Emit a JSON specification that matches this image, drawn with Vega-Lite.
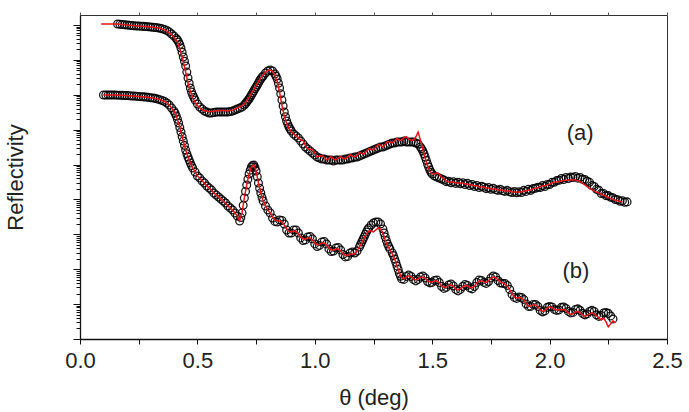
{
"$schema": "https://vega.github.io/schema/vega-lite/v6.json",
"width": 587, "height": 324,
"autosize": {"type": "none"},
"padding": {"left": 80, "top": 15, "right": 22, "bottom": 73},
"background": "white",
"config": {"font": "Liberation Sans", "view": {"stroke": "#333", "strokeWidth": 1}},
"resolve": {"axis": {"x": "independent", "y": "independent"}},
"data": {"values": [
{"s":"a","theta":0.09,"R":null,"fit":0.03},{"s":"a","theta":0.10,"R":null,"fit":0.03},{"s":"a","theta":0.11,"R":null,"fit":0.03},{"s":"a","theta":0.12,"R":null,"fit":0.03},{"s":"a","theta":0.13,"R":null,"fit":0.03},{"s":"a","theta":0.14,"R":null,"fit":0.03},{"s":"a","theta":0.15,"R":null,"fit":0.03},
{"s":"a","theta":0.16,"R":0.029,"fit":0.029},{"s":"a","theta":0.17,"R":0.023,"fit":0.023},{"s":"a","theta":0.18,"R":0.014,"fit":0.014},{"s":"a","theta":0.19,"R":0.006,"fit":0.006},{"s":"a","theta":0.20,"R":0,"fit":0},
{"s":"a","theta":0.21,"R":-0.006,"fit":-0.006},{"s":"a","theta":0.22,"R":-0.014,"fit":-0.014},{"s":"a","theta":0.23,"R":-0.020,"fit":-0.020},{"s":"a","theta":0.24,"R":-0.029,"fit":-0.029},{"s":"a","theta":0.25,"R":-0.029,"fit":-0.029},
{"s":"a","theta":0.26,"R":-0.034,"fit":-0.034},{"s":"a","theta":0.27,"R":-0.040,"fit":-0.040},{"s":"a","theta":0.28,"R":-0.046,"fit":-0.046},{"s":"a","theta":0.29,"R":-0.052,"fit":-0.052},{"s":"a","theta":0.30,"R":-0.057,"fit":-0.057},
{"s":"a","theta":0.31,"R":-0.063,"fit":-0.063},{"s":"a","theta":0.32,"R":-0.072,"fit":-0.072},{"s":"a","theta":0.33,"R":-0.080,"fit":-0.080},{"s":"a","theta":0.34,"R":-0.092,"fit":-0.092},{"s":"a","theta":0.35,"R":-0.109,"fit":-0.115},
{"s":"a","theta":0.36,"R":-0.129,"fit":-0.14},{"s":"a","theta":0.37,"R":-0.158,"fit":-0.180},{"s":"a","theta":0.38,"R":-0.201,"fit":-0.230},{"s":"a","theta":0.39,"R":-0.258,"fit":-0.287},{"s":"a","theta":0.40,"R":-0.315,"fit":-0.351},
{"s":"a","theta":0.41,"R":-0.387,"fit":-0.437},{"s":"a","theta":0.42,"R":-0.487,"fit":-0.573},{"s":"a","theta":0.43,"R":-0.659,"fit":-0.788},{"s":"a","theta":0.44,"R":-0.917,"fit":-1.046},{"s":"a","theta":0.45,"R":-1.175,"fit":-1.347},
{"s":"a","theta":0.46,"R":-1.519,"fit":-1.662},{"s":"a","theta":0.47,"R":-1.805,"fit":-1.906},{"s":"a","theta":0.48,"R":-2.006,"fit":-2.078},{"s":"a","theta":0.49,"R":-2.149,"fit":-2.207},{"s":"a","theta":0.50,"R":-2.264,"fit":-2.307},
{"s":"a","theta":0.51,"R":-2.350,"fit":-2.38},{"s":"a","theta":0.52,"R":-2.407,"fit":-2.43},{"s":"a","theta":0.53,"R":-2.464,"fit":-2.46},{"s":"a","theta":0.54,"R":-2.493,"fit":-2.47},{"s":"a","theta":0.55,"R":-2.521,"fit":-2.48},
{"s":"a","theta":0.56,"R":-2.521,"fit":-2.48},{"s":"a","theta":0.57,"R":-2.507,"fit":-2.47},{"s":"a","theta":0.58,"R":-2.493,"fit":-2.46},{"s":"a","theta":0.59,"R":-2.493,"fit":-2.46},{"s":"a","theta":0.60,"R":-2.493,"fit":-2.45},
{"s":"a","theta":0.61,"R":-2.493,"fit":-2.45},{"s":"a","theta":0.62,"R":-2.493,"fit":-2.46},{"s":"a","theta":0.63,"R":-2.493,"fit":-2.46},{"s":"a","theta":0.64,"R":-2.478,"fit":-2.45},{"s":"a","theta":0.65,"R":-2.464,"fit":-2.44},
{"s":"a","theta":0.66,"R":-2.436,"fit":-2.41},{"s":"a","theta":0.67,"R":-2.407,"fit":-2.38},{"s":"a","theta":0.68,"R":-2.378,"fit":-2.35},{"s":"a","theta":0.69,"R":-2.350,"fit":-2.32},{"s":"a","theta":0.70,"R":-2.292,"fit":-2.26},
{"s":"a","theta":0.71,"R":-2.206,"fit":-2.17},{"s":"a","theta":0.72,"R":-2.120,"fit":-2.08},{"s":"a","theta":0.73,"R":-2.006,"fit":-1.96},{"s":"a","theta":0.74,"R":-1.891,"fit":-1.85},{"s":"a","theta":0.75,"R":-1.776,"fit":-1.74},
{"s":"a","theta":0.76,"R":-1.662,"fit":-1.62},{"s":"a","theta":0.77,"R":-1.547,"fit":-1.52},{"s":"a","theta":0.78,"R":-1.461,"fit":-1.43},{"s":"a","theta":0.79,"R":-1.375,"fit":-1.35},{"s":"a","theta":0.80,"R":-1.318,"fit":-1.30},
{"s":"a","theta":0.81,"R":-1.289,"fit":-1.29},{"s":"a","theta":0.82,"R":-1.318,"fit":-1.33},{"s":"a","theta":0.83,"R":-1.404,"fit":-1.44},{"s":"a","theta":0.84,"R":-1.547,"fit":-1.62},{"s":"a","theta":0.85,"R":-1.805,"fit":-1.93},
{"s":"a","theta":0.86,"R":-2.149,"fit":-2.30},{"s":"a","theta":0.87,"R":-2.493,"fit":-2.60},{"s":"a","theta":0.88,"R":-2.751,"fit":-2.82},{"s":"a","theta":0.89,"R":-2.923,"fit":-2.96},{"s":"a","theta":0.90,"R":-3.037,"fit":-3.06},
{"s":"a","theta":0.91,"R":-3.123,"fit":-3.13},{"s":"a","theta":0.92,"R":-3.180,"fit":-3.18},{"s":"a","theta":0.93,"R":-3.238,"fit":-3.23},{"s":"a","theta":0.94,"R":-3.324,"fit":-3.30},{"s":"a","theta":0.95,"R":-3.410,"fit":-3.31},
{"s":"a","theta":0.96,"R":-3.496,"fit":-3.45},{"s":"a","theta":0.97,"R":-3.553,"fit":-3.55},{"s":"a","theta":0.98,"R":-3.610,"fit":-3.56},{"s":"a","theta":0.99,"R":-3.668,"fit":-3.57},{"s":"a","theta":1.00,"R":-3.725,"fit":-3.68},
{"s":"a","theta":1.01,"R":-3.782,"fit":-3.78},{"s":"a","theta":1.02,"R":-3.811,"fit":-3.76},{"s":"a","theta":1.03,"R":-3.840,"fit":-3.74},{"s":"a","theta":1.04,"R":-3.840,"fit":-3.79},{"s":"a","theta":1.05,"R":-3.868,"fit":-3.87},
{"s":"a","theta":1.06,"R":-3.868,"fit":-3.82},{"s":"a","theta":1.07,"R":-3.868,"fit":-3.77},{"s":"a","theta":1.08,"R":-3.897,"fit":-3.85},{"s":"a","theta":1.09,"R":-3.868,"fit":-3.87},{"s":"a","theta":1.10,"R":-3.868,"fit":-3.82},
{"s":"a","theta":1.11,"R":-3.868,"fit":-3.77},{"s":"a","theta":1.12,"R":-3.868,"fit":-3.82},{"s":"a","theta":1.13,"R":-3.840,"fit":-3.84},{"s":"a","theta":1.14,"R":-3.840,"fit":-3.79},{"s":"a","theta":1.15,"R":-3.811,"fit":-3.71},
{"s":"a","theta":1.16,"R":-3.811,"fit":-3.76},{"s":"a","theta":1.17,"R":-3.782,"fit":-3.78},{"s":"a","theta":1.18,"R":-3.782,"fit":-3.73},{"s":"a","theta":1.19,"R":-3.754,"fit":-3.65},{"s":"a","theta":1.20,"R":-3.725,"fit":-3.68},
{"s":"a","theta":1.21,"R":-3.696,"fit":-3.70},{"s":"a","theta":1.22,"R":-3.668,"fit":-3.62},{"s":"a","theta":1.23,"R":-3.639,"fit":-3.54},{"s":"a","theta":1.24,"R":-3.610,"fit":-3.56},{"s":"a","theta":1.25,"R":-3.582,"fit":-3.58},
{"s":"a","theta":1.26,"R":-3.553,"fit":-3.50},{"s":"a","theta":1.27,"R":-3.524,"fit":-3.42},{"s":"a","theta":1.28,"R":-3.496,"fit":-3.45},{"s":"a","theta":1.29,"R":-3.496,"fit":-3.50},{"s":"a","theta":1.30,"R":-3.467,"fit":-3.42},
{"s":"a","theta":1.31,"R":-3.438,"fit":-3.34},{"s":"a","theta":1.32,"R":-3.410,"fit":-3.36},{"s":"a","theta":1.33,"R":-3.381,"fit":-3.38},{"s":"a","theta":1.34,"R":-3.381,"fit":-3.33},{"s":"a","theta":1.35,"R":-3.352,"fit":-3.25},
{"s":"a","theta":1.36,"R":-3.352,"fit":-3.30},{"s":"a","theta":1.37,"R":-3.352,"fit":-3.30},{"s":"a","theta":1.38,"R":-3.324,"fit":-3.22},{"s":"a","theta":1.39,"R":-3.352,"fit":-3.20},{"s":"a","theta":1.40,"R":-3.352,"fit":-3.27},
{"s":"a","theta":1.41,"R":-3.352,"fit":-3.30},{"s":"a","theta":1.42,"R":-3.352,"fit":-3.30},{"s":"a","theta":1.43,"R":-3.381,"fit":-3.21},{"s":"a","theta":1.44,"R":-3.410,"fit":-3.07},{"s":"a","theta":1.45,"R":-3.496,"fit":-3.30},
{"s":"a","theta":1.46,"R":-3.610,"fit":-3.58},{"s":"a","theta":1.47,"R":-3.782,"fit":-3.81},{"s":"a","theta":1.48,"R":-3.983,"fit":-4.04},{"s":"a","theta":1.49,"R":-4.155,"fit":-4.18},{"s":"a","theta":1.50,"R":-4.269,"fit":-4.27},
{"s":"a","theta":1.51,"R":-4.327,"fit":-4.27},{"s":"a","theta":1.52,"R":-4.355,"fit":-4.24},{"s":"a","theta":1.53,"R":-4.384,"fit":-4.27},{"s":"a","theta":1.54,"R":-4.413,"fit":-4.36},{"s":"a","theta":1.55,"R":-4.441,"fit":-4.41},
{"s":"a","theta":1.56,"R":-4.49,"fit":-4.47},{"s":"a","theta":1.57,"R":-4.48,"fit":-4.50},{"s":"a","theta":1.58,"R":-4.52,"fit":-4.50},{"s":"a","theta":1.59,"R":-4.49,"fit":-4.50},{"s":"a","theta":1.60,"R":-4.54,"fit":-4.53},
{"s":"a","theta":1.61,"R":-4.51,"fit":-4.53},{"s":"a","theta":1.62,"R":-4.55,"fit":-4.53},{"s":"a","theta":1.63,"R":-4.52,"fit":-4.53},{"s":"a","theta":1.64,"R":-4.57,"fit":-4.56},{"s":"a","theta":1.65,"R":-4.54,"fit":-4.56},
{"s":"a","theta":1.66,"R":-4.60,"fit":-4.585},{"s":"a","theta":1.67,"R":-4.57,"fit":-4.585},{"s":"a","theta":1.68,"R":-4.63,"fit":-4.61},{"s":"a","theta":1.69,"R":-4.60,"fit":-4.61},{"s":"a","theta":1.70,"R":-4.66,"fit":-4.64},
{"s":"a","theta":1.71,"R":-4.62,"fit":-4.64},{"s":"a","theta":1.72,"R":-4.65,"fit":-4.64},{"s":"a","theta":1.73,"R":-4.69,"fit":-4.67},{"s":"a","theta":1.74,"R":-4.66,"fit":-4.67},{"s":"a","theta":1.75,"R":-4.71,"fit":-4.70},
{"s":"a","theta":1.76,"R":-4.68,"fit":-4.70},{"s":"a","theta":1.77,"R":-4.72,"fit":-4.70},{"s":"a","theta":1.78,"R":-4.74,"fit":-4.73},{"s":"a","theta":1.79,"R":-4.71,"fit":-4.73},{"s":"a","theta":1.80,"R":-4.75,"fit":-4.73},
{"s":"a","theta":1.81,"R":-4.77,"fit":-4.76},{"s":"a","theta":1.82,"R":-4.74,"fit":-4.76},{"s":"a","theta":1.83,"R":-4.78,"fit":-4.76},{"s":"a","theta":1.84,"R":-4.80,"fit":-4.785},{"s":"a","theta":1.85,"R":-4.77,"fit":-4.785},
{"s":"a","theta":1.86,"R":-4.81,"fit":-4.785},{"s":"a","theta":1.87,"R":-4.78,"fit":-4.785},{"s":"a","theta":1.88,"R":-4.80,"fit":-4.785},{"s":"a","theta":1.89,"R":-4.74,"fit":-4.76},{"s":"a","theta":1.90,"R":-4.77,"fit":-4.76},
{"s":"a","theta":1.91,"R":-4.71,"fit":-4.73},{"s":"a","theta":1.92,"R":-4.74,"fit":-4.73},{"s":"a","theta":1.93,"R":-4.69,"fit":-4.70},{"s":"a","theta":1.94,"R":-4.68,"fit":-4.67},{"s":"a","theta":1.95,"R":-4.65,"fit":-4.67},
{"s":"a","theta":1.96,"R":-4.66,"fit":-4.64},{"s":"a","theta":1.97,"R":-4.60,"fit":-4.61},{"s":"a","theta":1.98,"R":-4.63,"fit":-4.61},{"s":"a","theta":1.99,"R":-4.57,"fit":-4.585},{"s":"a","theta":2.00,"R":-4.57,"fit":-4.56},
{"s":"a","theta":2.01,"R":-4.51,"fit":-4.53},{"s":"a","theta":2.02,"R":-4.51,"fit":-4.50},{"s":"a","theta":2.03,"R":-4.46,"fit":-4.50},{"s":"a","theta":2.04,"R":-4.45,"fit":-4.49},{"s":"a","theta":2.05,"R":-4.40,"fit":-4.47},
{"s":"a","theta":2.06,"R":-4.43,"fit":-4.46},{"s":"a","theta":2.07,"R":-4.37,"fit":-4.45},{"s":"a","theta":2.08,"R":-4.40,"fit":-4.45},{"s":"a","theta":2.09,"R":-4.36,"fit":-4.44},{"s":"a","theta":2.10,"R":-4.37,"fit":-4.44},
{"s":"a","theta":2.11,"R":-4.34,"fit":-4.44},{"s":"a","theta":2.12,"R":-4.39,"fit":-4.46},{"s":"a","theta":2.13,"R":-4.37,"fit":-4.49},{"s":"a","theta":2.14,"R":-4.42,"fit":-4.53},{"s":"a","theta":2.15,"R":-4.43,"fit":-4.58},
{"s":"a","theta":2.16,"R":-4.48,"fit":-4.63},{"s":"a","theta":2.17,"R":-4.51,"fit":-4.68},{"s":"a","theta":2.18,"R":-4.60,"fit":-4.72},{"s":"a","theta":2.19,"R":-4.63,"fit":-4.76},{"s":"a","theta":2.20,"R":-4.71,"fit":-4.79},
{"s":"a","theta":2.21,"R":-4.74,"fit":-4.82},{"s":"a","theta":2.22,"R":-4.83,"fit":-4.85},{"s":"a","theta":2.23,"R":-4.83,"fit":-4.88},{"s":"a","theta":2.24,"R":-4.89,"fit":-4.91},{"s":"a","theta":2.25,"R":-4.89,"fit":-4.94},
{"s":"a","theta":2.26,"R":-4.94,"fit":-4.97},{"s":"a","theta":2.27,"R":-4.95,"fit":-5.00},{"s":"a","theta":2.28,"R":-5.00,"fit":-5.02},{"s":"a","theta":2.29,"R":-5.01,"fit":-5.04},{"s":"a","theta":2.30,"R":-5.05,"fit":-5.06},
{"s":"a","theta":2.31,"R":-5.04,"fit":-5.07},{"s":"a","theta":2.32,"R":-5.08,"fit":null},{"s":"a","theta":2.33,"R":-5.07,"fit":null},
{"s":"a","theta":0.415,"R":-0.43},{"s":"a","theta":0.425,"R":-0.56},{"s":"a","theta":0.435,"R":-0.78},{"s":"a","theta":0.445,"R":-1.04},{"s":"a","theta":0.455,"R":-1.35},{"s":"a","theta":0.465,"R":-1.67},{"s":"a","theta":0.475,"R":-1.92},{"s":"a","theta":0.485,"R":-2.08},
{"s":"a","theta":0.705,"R":-2.25},{"s":"a","theta":0.715,"R":-2.16},{"s":"a","theta":0.725,"R":-2.06},{"s":"a","theta":0.735,"R":-1.95},{"s":"a","theta":0.745,"R":-1.83},{"s":"a","theta":0.755,"R":-1.72},{"s":"a","theta":0.765,"R":-1.60},{"s":"a","theta":0.775,"R":-1.50},
{"s":"a","theta":0.835,"R":-1.47},{"s":"a","theta":0.845,"R":-1.67},{"s":"a","theta":0.855,"R":-1.97},{"s":"a","theta":0.865,"R":-2.32},{"s":"a","theta":0.875,"R":-2.63},{"s":"a","theta":0.885,"R":-2.84},{"s":"a","theta":0.895,"R":-2.98},
{"s":"a","theta":1.455,"R":-3.55},{"s":"a","theta":1.465,"R":-3.69},{"s":"a","theta":1.475,"R":-3.88},{"s":"a","theta":1.485,"R":-4.07},{"s":"a","theta":1.495,"R":-4.22},
{"s":"b","theta":0.10,"R":-2.006,"fit":-2.006},{"s":"b","theta":0.11,"R":-2.006,"fit":-2.006},{"s":"b","theta":0.12,"R":-2.006,"fit":-2.006},{"s":"b","theta":0.13,"R":-2.006,"fit":-2.006},{"s":"b","theta":0.14,"R":-2.006,"fit":-2.006},
{"s":"b","theta":0.15,"R":-2.006,"fit":-2.006},{"s":"b","theta":0.16,"R":-2.011,"fit":-2.011},{"s":"b","theta":0.17,"R":-2.014,"fit":-2.014},{"s":"b","theta":0.18,"R":-2.017,"fit":-2.017},{"s":"b","theta":0.19,"R":-2.020,"fit":-2.020},
{"s":"b","theta":0.20,"R":-2.023,"fit":-2.023},{"s":"b","theta":0.21,"R":-2.029,"fit":-2.029},{"s":"b","theta":0.22,"R":-2.034,"fit":-2.034},{"s":"b","theta":0.23,"R":-2.037,"fit":-2.037},{"s":"b","theta":0.24,"R":-2.043,"fit":-2.043},
{"s":"b","theta":0.25,"R":-2.049,"fit":-2.049},{"s":"b","theta":0.26,"R":-2.054,"fit":-2.054},{"s":"b","theta":0.27,"R":-2.060,"fit":-2.060},{"s":"b","theta":0.28,"R":-2.066,"fit":-2.066},{"s":"b","theta":0.29,"R":-2.074,"fit":-2.074},
{"s":"b","theta":0.30,"R":-2.083,"fit":-2.083},{"s":"b","theta":0.31,"R":-2.092,"fit":-2.092},{"s":"b","theta":0.32,"R":-2.103,"fit":-2.103},{"s":"b","theta":0.33,"R":-2.120,"fit":-2.120},{"s":"b","theta":0.34,"R":-2.140,"fit":-2.140},
{"s":"b","theta":0.35,"R":-2.163,"fit":-2.163},{"s":"b","theta":0.36,"R":-2.192,"fit":-2.192},{"s":"b","theta":0.37,"R":-2.235,"fit":-2.235},{"s":"b","theta":0.38,"R":-2.292,"fit":-2.292},{"s":"b","theta":0.39,"R":-2.378,"fit":-2.378},
{"s":"b","theta":0.40,"R":-2.464,"fit":-2.464},{"s":"b","theta":0.41,"R":-2.607,"fit":-2.607},{"s":"b","theta":0.42,"R":-2.808,"fit":-2.808},{"s":"b","theta":0.43,"R":-3.066,"fit":-3.066},{"s":"b","theta":0.44,"R":-3.324,"fit":-3.324},
{"s":"b","theta":0.45,"R":-3.582,"fit":-3.582},{"s":"b","theta":0.46,"R":-3.782,"fit":-3.782},{"s":"b","theta":0.47,"R":-3.954,"fit":-3.954},{"s":"b","theta":0.48,"R":-4.097,"fit":-4.097},{"s":"b","theta":0.49,"R":-4.212,"fit":-4.212},
{"s":"b","theta":0.50,"R":-4.327,"fit":-4.327},{"s":"b","theta":0.51,"R":-4.384,"fit":-4.384},{"s":"b","theta":0.52,"R":-4.470,"fit":-4.470},{"s":"b","theta":0.53,"R":-4.527,"fit":-4.527},{"s":"b","theta":0.54,"R":-4.613,"fit":-4.613},
{"s":"b","theta":0.55,"R":-4.671,"fit":-4.671},{"s":"b","theta":0.56,"R":-4.728,"fit":-4.728},{"s":"b","theta":0.57,"R":-4.814,"fit":-4.814},{"s":"b","theta":0.58,"R":-4.871,"fit":-4.871},{"s":"b","theta":0.59,"R":-4.928,"fit":-4.928},
{"s":"b","theta":0.60,"R":-4.986,"fit":-4.986},{"s":"b","theta":0.61,"R":-5.043,"fit":-5.043},{"s":"b","theta":0.62,"R":-5.100,"fit":-5.100},{"s":"b","theta":0.63,"R":-5.186,"fit":-5.186},{"s":"b","theta":0.64,"R":-5.244,"fit":-5.244},
{"s":"b","theta":0.65,"R":-5.301,"fit":-5.301},{"s":"b","theta":0.66,"R":-5.387,"fit":-5.387},{"s":"b","theta":0.67,"R":-5.473,"fit":-5.473},{"s":"b","theta":0.68,"R":-5.616,"fit":-5.616},{"s":"b","theta":0.69,"R":-5.387,"fit":-5.387},
{"s":"b","theta":0.70,"R":-4.957,"fit":-4.957},{"s":"b","theta":0.71,"R":-4.585,"fit":-4.585},{"s":"b","theta":0.72,"R":-4.269,"fit":-4.269},{"s":"b","theta":0.73,"R":-4.069,"fit":-4.069},{"s":"b","theta":0.74,"R":-4.011,"fit":-4.011},
{"s":"b","theta":0.75,"R":-4.183,"fit":-4.183},{"s":"b","theta":0.76,"R":-4.527,"fit":-4.527},{"s":"b","theta":0.77,"R":-4.814,"fit":-4.814},{"s":"b","theta":0.78,"R":-5.043,"fit":-5.043},{"s":"b","theta":0.79,"R":-5.186,"fit":-5.186},
{"s":"b","theta":0.80,"R":-5.301,"fit":-5.301},{"s":"b","theta":0.81,"R":-5.387,"fit":-5.387},{"s":"b","theta":0.82,"R":-5.530,"fit":-5.501},{"s":"b","theta":0.83,"R":-5.630,"fit":-5.587},{"s":"b","theta":0.84,"R":-5.645,"fit":-5.616},
{"s":"b","theta":0.85,"R":-5.587,"fit":-5.616},{"s":"b","theta":0.86,"R":-5.602,"fit":-5.645},{"s":"b","theta":0.87,"R":-5.702,"fit":-5.731},{"s":"b","theta":0.88,"R":-5.874,"fit":-5.845},{"s":"b","theta":0.89,"R":-5.960,"fit":-5.917},
{"s":"b","theta":0.90,"R":-5.960,"fit":-5.931},{"s":"b","theta":0.91,"R":-5.874,"fit":-5.903},{"s":"b","theta":0.92,"R":-5.874,"fit":-5.917},{"s":"b","theta":0.93,"R":-5.960,"fit":-5.988},{"s":"b","theta":0.94,"R":-6.103,"fit":-6.074},
{"s":"b","theta":0.95,"R":-6.175,"fit":-6.132},{"s":"b","theta":0.96,"R":-6.160,"fit":-6.132},{"s":"b","theta":0.97,"R":-6.074,"fit":-6.103},{"s":"b","theta":0.98,"R":-6.060,"fit":-6.103},{"s":"b","theta":0.99,"R":-6.132,"fit":-6.160},
{"s":"b","theta":1.00,"R":-6.275,"fit":-6.246},{"s":"b","theta":1.01,"R":-6.347,"fit":-6.304},{"s":"b","theta":1.02,"R":-6.318,"fit":-6.289},{"s":"b","theta":1.03,"R":-6.218,"fit":-6.246},{"s":"b","theta":1.04,"R":-6.203,"fit":-6.246},
{"s":"b","theta":1.05,"R":-6.275,"fit":-6.304},{"s":"b","theta":1.06,"R":-6.418,"fit":-6.390},{"s":"b","theta":1.07,"R":-6.490,"fit":-6.447},{"s":"b","theta":1.08,"R":-6.476,"fit":-6.447},{"s":"b","theta":1.09,"R":-6.390,"fit":-6.418},
{"s":"b","theta":1.10,"R":-6.375,"fit":-6.418},{"s":"b","theta":1.11,"R":-6.447,"fit":-6.476},{"s":"b","theta":1.12,"R":-6.576,"fit":-6.547},{"s":"b","theta":1.13,"R":-6.647,"fit":-6.604},{"s":"b","theta":1.14,"R":-6.633,"fit":-6.604},
{"s":"b","theta":1.15,"R":-6.533,"fit":-6.562},{"s":"b","theta":1.16,"R":-6.504,"fit":-6.562},{"s":"b","theta":1.17,"R":-6.533,"fit":-6.562},{"s":"b","theta":1.18,"R":-6.476,"fit":-6.476},{"s":"b","theta":1.19,"R":-6.361,"fit":-6.361},
{"s":"b","theta":1.20,"R":-6.218,"fit":-6.246},{"s":"b","theta":1.21,"R":-6.074,"fit":-6.103},{"s":"b","theta":1.22,"R":-5.931,"fit":-5.988},{"s":"b","theta":1.23,"R":-5.817,"fit":-5.903},{"s":"b","theta":1.24,"R":-5.731,"fit":-5.903},
{"s":"b","theta":1.25,"R":-5.673,"fit":-5.931},{"s":"b","theta":1.26,"R":-5.645,"fit":-5.874},{"s":"b","theta":1.27,"R":-5.645,"fit":-5.817},{"s":"b","theta":1.28,"R":-5.702,"fit":-5.845},{"s":"b","theta":1.29,"R":-5.845,"fit":-5.960},
{"s":"b","theta":1.30,"R":-6.074,"fit":-6.160},{"s":"b","theta":1.31,"R":-6.275,"fit":-6.332},{"s":"b","theta":1.32,"R":-6.418,"fit":-6.447},{"s":"b","theta":1.33,"R":-6.533,"fit":-6.562},{"s":"b","theta":1.34,"R":-6.705,"fit":-6.705},
{"s":"b","theta":1.35,"R":-6.905,"fit":-6.905},{"s":"b","theta":1.36,"R":-7.120,"fit":-7.106},{"s":"b","theta":1.37,"R":-7.278,"fit":-7.249},{"s":"b","theta":1.38,"R":-7.292,"fit":-7.278},{"s":"b","theta":1.39,"R":-7.206,"fit":-7.221},
{"s":"b","theta":1.40,"R":-7.163,"fit":-7.192},{"s":"b","theta":1.41,"R":-7.206,"fit":-7.221},{"s":"b","theta":1.42,"R":-7.292,"fit":-7.278},{"s":"b","theta":1.43,"R":-7.335,"fit":-7.307},{"s":"b","theta":1.44,"R":-7.292,"fit":-7.278},
{"s":"b","theta":1.45,"R":-7.221,"fit":-7.235},{"s":"b","theta":1.46,"R":-7.192,"fit":-7.221},{"s":"b","theta":1.47,"R":-7.249,"fit":-7.264},{"s":"b","theta":1.48,"R":-7.350,"fit":-7.335},{"s":"b","theta":1.49,"R":-7.392,"fit":-7.364},
{"s":"b","theta":1.50,"R":-7.378,"fit":-7.364},{"s":"b","theta":1.51,"R":-7.321,"fit":-7.335},{"s":"b","theta":1.52,"R":-7.307,"fit":-7.335},{"s":"b","theta":1.53,"R":-7.378,"fit":-7.392},{"s":"b","theta":1.54,"R":-7.493,"fit":-7.478},
{"s":"b","theta":1.55,"R":-7.550,"fit":-7.521},{"s":"b","theta":1.56,"R":-7.521,"fit":-7.507},{"s":"b","theta":1.57,"R":-7.450,"fit":-7.464},{"s":"b","theta":1.58,"R":-7.421,"fit":-7.450},{"s":"b","theta":1.59,"R":-7.478,"fit":-7.493},
{"s":"b","theta":1.60,"R":-7.579,"fit":-7.564},{"s":"b","theta":1.61,"R":-7.622,"fit":-7.593},{"s":"b","theta":1.62,"R":-7.579,"fit":-7.564},{"s":"b","theta":1.63,"R":-7.493,"fit":-7.507},{"s":"b","theta":1.64,"R":-7.435,"fit":-7.464},
{"s":"b","theta":1.65,"R":-7.464,"fit":-7.478},{"s":"b","theta":1.66,"R":-7.536,"fit":-7.521},{"s":"b","theta":1.67,"R":-7.564,"fit":-7.536},{"s":"b","theta":1.68,"R":-7.493,"fit":-7.478},{"s":"b","theta":1.69,"R":-7.378,"fit":-7.392},
{"s":"b","theta":1.70,"R":-7.307,"fit":-7.335},{"s":"b","theta":1.71,"R":-7.321,"fit":-7.335},{"s":"b","theta":1.72,"R":-7.378,"fit":-7.364},{"s":"b","theta":1.73,"R":-7.407,"fit":-7.378},{"s":"b","theta":1.74,"R":-7.350,"fit":-7.335},
{"s":"b","theta":1.75,"R":-7.249,"fit":-7.264},{"s":"b","theta":1.76,"R":-7.192,"fit":-7.221},{"s":"b","theta":1.77,"R":-7.221,"fit":-7.235},{"s":"b","theta":1.78,"R":-7.321,"fit":-7.307},{"s":"b","theta":1.79,"R":-7.392,"fit":-7.364},
{"s":"b","theta":1.80,"R":-7.407,"fit":-7.392},{"s":"b","theta":1.81,"R":-7.407,"fit":-7.421},{"s":"b","theta":1.82,"R":-7.464,"fit":-7.478},{"s":"b","theta":1.83,"R":-7.579,"fit":-7.593},{"s":"b","theta":1.84,"R":-7.722,"fit":-7.708},
{"s":"b","theta":1.85,"R":-7.808,"fit":-7.794},{"s":"b","theta":1.86,"R":-7.837,"fit":-7.822},{"s":"b","theta":1.87,"R":-7.794,"fit":-7.808},{"s":"b","theta":1.88,"R":-7.808,"fit":-7.822},{"s":"b","theta":1.89,"R":-7.865,"fit":-7.880},
{"s":"b","theta":1.90,"R":-7.994,"fit":-7.980},{"s":"b","theta":1.91,"R":-8.066,"fit":-8.051},{"s":"b","theta":1.92,"R":-8.066,"fit":-8.051},{"s":"b","theta":1.93,"R":-8.009,"fit":-8.023},{"s":"b","theta":1.94,"R":-8.009,"fit":-8.023},
{"s":"b","theta":1.95,"R":-8.066,"fit":-8.080},{"s":"b","theta":1.96,"R":-8.180,"fit":-8.166},{"s":"b","theta":1.97,"R":-8.223,"fit":-8.209},{"s":"b","theta":1.98,"R":-8.195,"fit":-8.180},{"s":"b","theta":1.99,"R":-8.094,"fit":-8.109},
{"s":"b","theta":2.00,"R":-8.066,"fit":-8.080},{"s":"b","theta":2.01,"R":-8.080,"fit":-8.094},{"s":"b","theta":2.02,"R":-8.152,"fit":-8.137},{"s":"b","theta":2.03,"R":-8.180,"fit":-8.166},{"s":"b","theta":2.04,"R":-8.166,"fit":-8.152},
{"s":"b","theta":2.05,"R":-8.094,"fit":-8.166},{"s":"b","theta":2.06,"R":-8.080,"fit":-8.152},{"s":"b","theta":2.07,"R":-8.123,"fit":-8.195},{"s":"b","theta":2.08,"R":-8.209,"fit":-8.252},{"s":"b","theta":2.09,"R":-8.252,"fit":-8.295},
{"s":"b","theta":2.10,"R":-8.238,"fit":-8.281},{"s":"b","theta":2.11,"R":-8.152,"fit":-8.223},{"s":"b","theta":2.12,"R":-8.137,"fit":-8.209},{"s":"b","theta":2.13,"R":-8.180,"fit":-8.252},{"s":"b","theta":2.14,"R":-8.266,"fit":-8.309},
{"s":"b","theta":2.15,"R":-8.309,"fit":-8.352},{"s":"b","theta":2.16,"R":-8.281,"fit":-8.324},{"s":"b","theta":2.17,"R":-8.209,"fit":-8.281},{"s":"b","theta":2.18,"R":-8.180,"fit":-8.252},{"s":"b","theta":2.19,"R":-8.209,"fit":-8.281},
{"s":"b","theta":2.20,"R":-8.309,"fit":-8.338},{"s":"b","theta":2.21,"R":-8.352,"fit":-8.395},{"s":"b","theta":2.22,"R":-8.324,"fit":-8.453},{"s":"b","theta":2.23,"R":-8.252,"fit":-8.395},{"s":"b","theta":2.24,"R":-8.238,"fit":-8.510},
{"s":"b","theta":2.25,"R":-8.266,"fit":-8.653},{"s":"b","theta":2.26,"R":-8.338,"fit":-8.567},{"s":"b","theta":2.27,"R":-8.424,"fit":-8.481},{"s":"b","theta":2.28,"R":null,"fit":-8.539},
{"s":"b","theta":0.405,"R":-2.53},{"s":"b","theta":0.415,"R":-2.70},{"s":"b","theta":0.425,"R":-2.94},{"s":"b","theta":0.435,"R":-3.20},{"s":"b","theta":0.445,"R":-3.45},{"s":"b","theta":0.455,"R":-3.69},{"s":"b","theta":0.465,"R":-3.87},{"s":"b","theta":0.475,"R":-4.03},
{"s":"b","theta":0.685,"R":-5.52},{"s":"b","theta":0.695,"R":-5.17},{"s":"b","theta":0.705,"R":-4.77},{"s":"b","theta":0.715,"R":-4.42},{"s":"b","theta":0.725,"R":-4.16},{"s":"b","theta":0.735,"R":-4.03},{"s":"b","theta":0.745,"R":-4.08},{"s":"b","theta":0.755,"R":-4.35},{"s":"b","theta":0.765,"R":-4.68},{"s":"b","theta":0.775,"R":-4.94},
{"s":"b","theta":1.195,"R":-6.29},{"s":"b","theta":1.205,"R":-6.15},{"s":"b","theta":1.215,"R":-6.00},{"s":"b","theta":1.225,"R":-5.87},{"s":"b","theta":1.295,"R":-5.96},{"s":"b","theta":1.305,"R":-6.18},{"s":"b","theta":1.315,"R":-6.35},{"s":"b","theta":1.335,"R":-6.61},{"s":"b","theta":1.345,"R":-6.80},{"s":"b","theta":1.355,"R":-7.01},{"s":"b","theta":1.365,"R":-7.20}
]},
"layer": [
{"mark": {"type": "point", "shape": "circle", "filled": false, "size": 60, "strokeWidth": 1.3, "color": "#000", "opacity": 0.9},
 "encoding": {
  "x": {"field": "theta", "type": "quantitative", "scale": {"domain": [0, 2.5], "nice": false},
        "axis": {"orient": "bottom", "values": [0, 0.25, 0.5, 0.75, 1, 1.25, 1.5, 1.75, 2, 2.25, 2.5],
                 "labelExpr": "datum.value % 0.5 == 0 ? format(datum.value, '.1f') : ''",
                 "labelFlush": false, "labelFontSize": 22, "labelColor": "#222", "labelPadding": 6,
                 "tickSize": 5, "tickColor": "#111", "domainColor": "#111", "domainWidth": 1.3, "grid": false,
                 "title": "θ (deg)", "titleFontSize": 22, "titleFontWeight": "normal", "titleColor": "#222", "titlePadding": 16}},
  "y": {"field": "R", "type": "quantitative", "scale": {"domain": [-9, 0.2865], "nice": false, "zero": false},
        "axis": {"orient": "left", "labels": false, "grid": false, "domainColor": "#111", "domainWidth": 1.3, "tickColor": "#111",
                 "values": [-9,-8.699,-8.523,-8.398,-8.301,-8.222,-8.155,-8.097,-8.046,
                            -8,-7.699,-7.523,-7.398,-7.301,-7.222,-7.155,-7.097,-7.046,
                            -7,-6.699,-6.523,-6.398,-6.301,-6.222,-6.155,-6.097,-6.046,
                            -6,-5.699,-5.523,-5.398,-5.301,-5.222,-5.155,-5.097,-5.046,
                            -5,-4.699,-4.523,-4.398,-4.301,-4.222,-4.155,-4.097,-4.046,
                            -4,-3.699,-3.523,-3.398,-3.301,-3.222,-3.155,-3.097,-3.046,
                            -3,-2.699,-2.523,-2.398,-2.301,-2.222,-2.155,-2.097,-2.046,
                            -2,-1.699,-1.523,-1.398,-1.301,-1.222,-1.155,-1.097,-1.046,
                            -1,-0.699,-0.523,-0.398,-0.301,-0.222,-0.155,-0.097,-0.046,0],
                 "tickSize": {"condition": {"test": "datum.value == round(datum.value)", "value": 7}, "value": 4},
                 "title": "Reflectivity", "titleFontSize": 22, "titleFontWeight": "normal", "titleColor": "#222",
                 "titleX": -53, "titleY": 162}}
 }},
{"transform": [{"filter": "isValid(datum.fit)"}],
 "mark": {"type": "line", "color": "#e8141c", "strokeWidth": 1.5},
 "encoding": {
  "x": {"field": "theta", "type": "quantitative", "scale": {"domain": [0, 2.5], "nice": false},
        "axis": {"orient": "top", "values": [0, 0.25, 0.5, 0.75, 1, 1.25, 1.5, 1.75, 2, 2.25, 2.5], "labels": false, "domain": false, "grid": false, "tickSize": 3, "tickColor": "#555", "title": null}},
  "y": {"field": "fit", "type": "quantitative", "axis": null},
  "detail": {"field": "s"}
 }},
{"data": {"values": [{"label": "(a)"}]},
 "mark": {"type": "text", "fontSize": 22, "color": "#222", "align": "center", "baseline": "middle"},
 "encoding": {"x": {"datum": 2.13, "type": "quantitative", "axis": null}, "y": {"datum": -3.1, "type": "quantitative", "axis": null}, "text": {"field": "label"}}},
{"data": {"values": [{"label": "(b)"}]},
 "mark": {"type": "text", "fontSize": 22, "color": "#222", "align": "center", "baseline": "middle"},
 "encoding": {"x": {"datum": 2.112, "type": "quantitative", "axis": null}, "y": {"datum": -7.05, "type": "quantitative", "axis": null}, "text": {"field": "label"}}}
]
}
